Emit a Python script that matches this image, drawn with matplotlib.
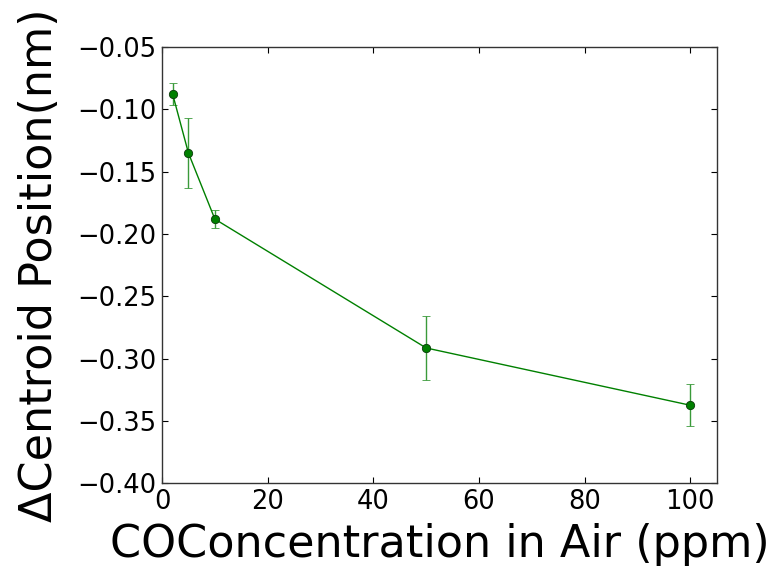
import matplotlib
matplotlib.use('Agg')
import matplotlib.pyplot as plt

# CO concentration (ppm) vs. centroid shift (nm)
concentration = [2, 5, 10, 50, 100]
centroid_shift = [-0.0875, -0.135, -0.188, -0.2915, -0.3375]
shift_error = [0.0085, 0.028, 0.007, 0.0255, 0.017]

x_ticks = [0, 20, 40, 60, 80, 100]
y_ticks = [-0.40, -0.35, -0.30, -0.25, -0.20, -0.15, -0.10, -0.05]

fig = plt.figure(figsize=(7.79, 5.69), dpi=100)
ax = fig.add_axes([0.208, 0.151, 0.712, 0.766])

ax.errorbar(concentration, centroid_shift, yerr=shift_error, color='g', ecolor='#3a9a3a',
            marker='o', markersize=6, markerfacecolor='g', markeredgecolor='#0a3a0a',
            markeredgewidth=0.6, linewidth=1.0, elinewidth=1.0, capsize=3, capthick=1.0)

ax.set_xlim(0, 105)
ax.set_ylim(-0.40, -0.05)
ax.set_xticks(x_ticks)
ax.set_yticks(y_ticks)
ax.set_yticklabels([f'{v:.2f}'.replace('-', '\u2212') for v in y_ticks])
ax.tick_params(direction='in', top=True, right=True, length=4, labelsize=18.5, pad=4)
for s in ax.spines.values():
    s.set_linewidth(1.0)
    s.set_color('#333333')

ax.set_xlabel('COConcentration in Air (ppm)', fontsize=32, labelpad=6)
ax.set_ylabel('\u0394Centroid Position(nm)', fontsize=32, labelpad=12)

fig.savefig('out.png', dpi=100, facecolor='white')
